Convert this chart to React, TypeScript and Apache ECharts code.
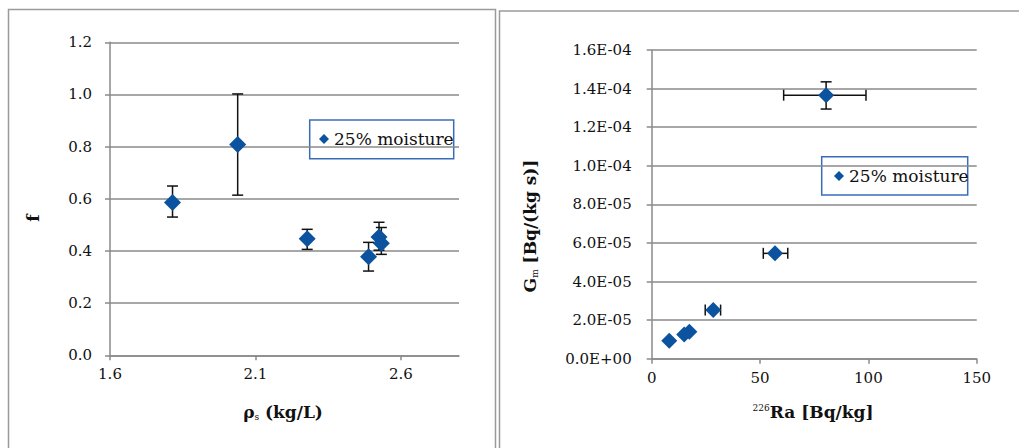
import React, { useEffect, useRef } from "react";
import * as echarts from "echarts";

// ---- Left chart data: f vs rho_s ----
const leftRho = [1.815, 2.039, 2.278, 2.489, 2.525, 2.533];
const leftF = [0.586, 0.808, 0.447, 0.378, 0.454, 0.43];
const leftFLow = [0.53, 0.614, 0.406, 0.323, 0.403, 0.387];
const leftFHigh = [0.649, 1.002, 0.483, 0.433, 0.51, 0.49];
const leftXTicks = [1.6, 2.1, 2.6];

// ---- Right chart data: Gm vs 226Ra ----
const ra = [80.5, 56.9, 28.4, 17.4, 15.0, 8.1];
const gm = [1.366e-4, 5.46e-5, 2.52e-5, 1.4e-5, 1.26e-5, 0.93e-5];
const gmLow = [1.294e-4, 5.46e-5, 2.52e-5, 1.4e-5, 1.26e-5, 0.93e-5];
const gmHigh = [1.435e-4, 5.46e-5, 2.52e-5, 1.4e-5, 1.26e-5, 0.93e-5];
const raLow = [60.9, 51.5, 24.7, 17.4, 15.0, 8.1];
const raHigh = [98.9, 62.8, 31.8, 17.4, 15.0, 8.1];

const seriesName = "25% moisture";
const BLUE = "#0b529f";
const AXIS = "#8a8a8a";
const TEXT = "#111111";
const FONT = "DejaVu Serif";

function sci(v: number): string {
  if (v === 0) return "0.0E+00";
  const e = Math.floor(Math.log10(Math.abs(v)) + 1e-9);
  const m = v / Math.pow(10, e);
  return m.toFixed(1) + "E" + (e < 0 ? "-" : "+") + String(Math.abs(e)).padStart(2, "0");
}

function errRender(params: any, api: any) {
  const x = api.value(0);
  const y = api.value(1);
  const ylo = api.value(2);
  const yhi = api.value(3);
  const xlo = api.value(4);
  const xhi = api.value(5);
  const style = { stroke: "#111", lineWidth: 1.5 };
  const cap = 5.5;
  const children: any[] = [];
  if (yhi > ylo) {
    const a = api.coord([x, ylo]);
    const b = api.coord([x, yhi]);
    children.push({ type: "line", shape: { x1: a[0], y1: a[1], x2: b[0], y2: b[1] }, style });
    children.push({ type: "line", shape: { x1: a[0] - cap, y1: a[1], x2: a[0] + cap, y2: a[1] }, style });
    children.push({ type: "line", shape: { x1: b[0] - cap, y1: b[1], x2: b[0] + cap, y2: b[1] }, style });
  }
  if (xhi > xlo) {
    const a = api.coord([xlo, y]);
    const b = api.coord([xhi, y]);
    children.push({ type: "line", shape: { x1: a[0], y1: a[1], x2: b[0], y2: b[1] }, style });
    children.push({ type: "line", shape: { x1: a[0], y1: a[1] - cap, x2: a[0], y2: a[1] + cap }, style });
    children.push({ type: "line", shape: { x1: b[0], y1: b[1] - cap, x2: b[0], y2: b[1] + cap }, style });
  }
  return { type: "group", children };
}

const axisCommon = {
  axisLine: { show: true, onZero: false, lineStyle: { color: AXIS, width: 1.5 } },
  axisTick: { show: true, inside: false, length: 5, lineStyle: { color: AXIS, width: 1.5 } },
  axisLabel: { color: TEXT, fontFamily: FONT, fontSize: 15 },
};

const nameRich = (size: number) => ({
  b: { fontFamily: FONT, fontSize: size, fontWeight: "bold", fill: TEXT },
  s: { fontFamily: FONT, fontSize: 9, fill: TEXT, padding: [9, 0, 0, 0] },
  sup: { fontFamily: FONT, fontSize: 9, fill: TEXT, padding: [0, 0, 9, 0] },
});

export default function App() {
  const ref = useRef<HTMLDivElement>(null);
  useEffect(() => {
    if (!ref.current) return;
    const chart = echarts.init(ref.current, undefined, { renderer: "svg" });

    const leftScatter = leftRho.map((x, i) => [x, leftF[i]]);
    const leftErr = leftRho.map((x, i) => [x, leftF[i], leftFLow[i], leftFHigh[i], x, x]);
    const rightScatter = ra.map((x, i) => [x, gm[i]]);
    const rightErr = ra.map((x, i) => [x, gm[i], gmLow[i], gmHigh[i], raLow[i], raHigh[i]]);

    const legendCommon = {
      data: [seriesName],
      padding: 0,
      itemWidth: 10,
      itemHeight: 10,
      icon: "diamond",
      textStyle: { fontFamily: FONT, fontSize: 17, color: TEXT, lineHeight: 18 },
      selectedMode: false,
    };

    const option: any = {
      animation: false,
      backgroundColor: "#ffffff",
      grid: [
        { left: 110, top: 42.3, width: 349, height: 313, outerBoundsMode: "none", containLabel: false },
        { left: 651.7, top: 50, width: 325, height: 308.7, outerBoundsMode: "none", containLabel: false },
      ],
      xAxis: [
        {
          gridIndex: 0,
          type: "value",
          min: 1.6,
          max: 2.8,
          ...axisCommon,
          axisTick: { ...axisCommon.axisTick, customValues: leftXTicks },
          axisLabel: {
            ...axisCommon.axisLabel,
            margin: 11,
            customValues: leftXTicks,
            formatter: (v: number) => v.toFixed(1),
          },
          splitLine: { show: false },
        },
        {
          gridIndex: 1,
          type: "value",
          min: 0,
          max: 150,
          interval: 50,
          ...axisCommon,
          axisLabel: { ...axisCommon.axisLabel, margin: 12 },
          splitLine: { show: false },
        },
      ],
      yAxis: [
        {
          gridIndex: 0,
          type: "value",
          min: 0,
          max: 1.2,
          interval: 0.2,
          ...axisCommon,
          axisLabel: { ...axisCommon.axisLabel, margin: 18, formatter: (v: number) => v.toFixed(1) },
          splitLine: { show: true, lineStyle: { color: AXIS, width: 1.5 } },
        },
        {
          gridIndex: 1,
          type: "value",
          min: 0,
          max: 1.6e-4,
          interval: 2e-5,
          ...axisCommon,
          axisLabel: { ...axisCommon.axisLabel, margin: 20, formatter: (v: number) => sci(v) },
          splitLine: { show: true, lineStyle: { color: AXIS, width: 1.5 } },
        },
      ],
      legend: [
        { ...legendCommon, left: 319, top: 130 },
        { ...legendCommon, left: 834, top: 167 },
      ],
      graphic: [
        {
          type: "rect",
          shape: { x: 8.5, y: 9.5, width: 487, height: 460 },
          style: { fill: "none", stroke: "#9a9a9a", lineWidth: 1.5 },
          z: -1,
        },
        {
          type: "rect",
          shape: { x: 499.5, y: 11, width: 540, height: 460 },
          style: { fill: "none", stroke: "#9a9a9a", lineWidth: 1.5 },
          z: -1,
        },
        {
          type: "rect",
          shape: { x: 309.7, y: 120, width: 144, height: 38.7 },
          style: { fill: "#ffffff", stroke: "#3a6db8", lineWidth: 1.5 },
          z: 0,
        },
        {
          type: "rect",
          shape: { x: 821.7, y: 156.7, width: 146, height: 38.3 },
          style: { fill: "#ffffff", stroke: "#3a6db8", lineWidth: 1.5 },
          z: 0,
        },
        {
          type: "text",
          x: 283,
          y: 412,
          style: {
            text: "{b|ρ}{s|s}{b| (kg/L)}",
            align: "center",
            verticalAlign: "middle",
            rich: nameRich(17),
          },
        },
        {
          type: "text",
          x: 33,
          y: 218,
          rotation: Math.PI / 2,
          style: {
            text: "f",
            align: "center",
            verticalAlign: "middle",
            fontFamily: FONT,
            fontSize: 17,
            fontWeight: "bold",
            fill: TEXT,
          },
        },
        {
          type: "text",
          x: 813,
          y: 412,
          style: {
            text: "{sup|226}{b|Ra [Bq/kg]}",
            align: "center",
            verticalAlign: "middle",
            rich: nameRich(17),
          },
        },
        {
          type: "text",
          x: 530,
          y: 226,
          rotation: Math.PI / 2,
          style: {
            text: "{b|G}{s|m}{b| [Bq/(kg s)]}",
            align: "center",
            verticalAlign: "middle",
            rich: nameRich(17),
          },
        },
      ],
      series: [
        {
          name: "err-left",
          type: "custom",
          xAxisIndex: 0,
          yAxisIndex: 0,
          renderItem: errRender,
          encode: { x: 0, y: 1 },
          data: leftErr,
          z: 2,
          silent: true,
        },
        {
          name: seriesName,
          type: "scatter",
          xAxisIndex: 0,
          yAxisIndex: 0,
          symbol: "diamond",
          symbolSize: 17,
          itemStyle: { color: BLUE, opacity: 1 },
          data: leftScatter,
          z: 3,
        },
        {
          name: "err-right",
          type: "custom",
          xAxisIndex: 1,
          yAxisIndex: 1,
          renderItem: errRender,
          encode: { x: 0, y: 1 },
          data: rightErr,
          z: 2,
          silent: true,
        },
        {
          name: seriesName,
          type: "scatter",
          xAxisIndex: 1,
          yAxisIndex: 1,
          symbol: "diamond",
          symbolSize: 16,
          itemStyle: { color: BLUE, opacity: 1 },
          data: rightScatter,
          z: 3,
        },
      ],
    };
    chart.setOption(option);
    return () => chart.dispose();
  }, []);
  return (
    <div
      ref={ref}
      style={{ position: "absolute", left: 0, top: 0, width: 1019, height: 448 }}
    />
  );
}
